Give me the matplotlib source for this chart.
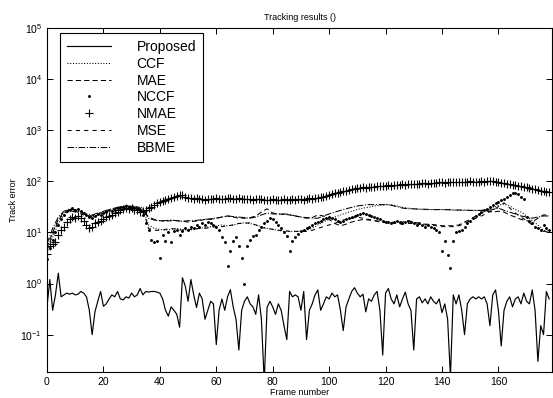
import numpy as np
import matplotlib
matplotlib.use("Agg")
import matplotlib.pyplot as plt

plt.rcParams['font.family'] = ['Liberation Sans', 'DejaVu Sans']
plt.rcParams['mathtext.default'] = 'regular'

# ---- data ----
frames = np.arange(0, 179)
frames_s = np.arange(0, 179, 2)

proposed = [
    0.35, 1.2, 0.3, 0.6, 1.6, 0.55, 0.6, 0.65, 0.62, 0.65,
    0.6, 0.62, 0.7, 0.65, 0.55, 0.3, 0.1, 0.28, 0.45, 0.7,
    0.36, 0.4, 0.5, 0.6, 0.55, 0.7, 0.5, 0.48, 0.55, 0.52,
    0.65, 0.55, 0.6, 0.8, 0.6, 0.7, 0.68, 0.7, 0.7, 0.68,
    0.65, 0.5, 0.3, 0.23, 0.35, 0.3, 0.25, 0.14, 1.3, 0.9,
    0.45, 1.2, 0.6, 0.34, 0.65, 0.5, 0.2, 0.3, 0.45, 0.4,
    0.064, 0.3, 0.5, 0.3, 0.55, 0.76, 0.35, 0.2, 0.05, 0.3,
    0.45, 0.55, 0.4, 0.35, 0.25, 0.6, 0.2, 0.012, 0.34, 0.45,
    0.35, 0.25, 0.4, 0.3, 0.15, 0.08, 0.7, 0.55, 0.6, 0.55,
    0.3, 0.7, 0.08, 0.3, 0.4, 0.6, 0.75, 0.3, 0.4, 0.55,
    0.5, 0.65, 0.55, 0.6, 0.3, 0.12, 0.35, 0.5, 0.7, 0.83,
    0.65, 0.55, 0.62, 0.28, 0.5, 0.45, 0.6, 0.7, 0.3, 0.04,
    0.65, 0.8, 0.5, 0.4, 0.6, 0.35, 0.5, 0.68, 0.4, 0.3,
    0.05, 0.5, 0.55, 0.42, 0.5, 0.4, 0.55, 0.45, 0.4, 0.5,
    0.27, 0.4, 0.2, 0.015, 0.6, 0.4, 0.6, 0.3, 0.1, 0.4,
    0.5, 0.55, 0.5, 0.55, 0.5, 0.55, 0.4, 0.15, 0.6, 0.75,
    0.3, 0.06, 0.3, 0.45, 0.55, 0.35, 0.5, 0.55, 0.4, 0.65,
    0.45, 0.4, 0.75, 0.3, 0.03, 0.15, 0.1, 0.7, 0.5,
]

nmae = [
    3.8, 5.5, 6, 6.5, 9, 11, 13, 16, 18, 20,
    19, 21, 19, 17, 14, 12, 13, 15, 16, 17,
    18, 20, 21, 22, 24, 25, 27, 29, 30, 29,
    30, 28, 27, 25, 26, 28, 30, 32, 35, 37,
    40, 42, 44, 45, 48, 50, 52, 55, 53, 50,
    48, 47, 46, 47, 45, 46, 44, 45, 46, 45,
    47, 46, 45, 46, 48, 47, 46, 45, 47, 46,
    45, 46, 45, 44, 46, 45, 46, 44, 43, 44,
    45, 44, 43, 44, 45, 44, 43, 45, 44, 45,
    46, 44, 45, 47, 46, 48, 47, 49, 50, 52,
    54, 56, 58, 60, 62, 64, 66, 68, 70, 72,
    73, 75, 76, 74, 77, 78, 79, 80, 81, 80,
    82, 83, 82, 84, 86, 85, 87, 86, 88, 87,
    89, 90, 88, 91, 92, 90, 93, 94, 92, 95,
    96, 94, 97, 98, 96, 99, 98, 96, 97, 99,
    100, 98, 97, 99, 100, 98, 101, 103, 100, 97,
    95, 93, 91, 89, 87, 86, 84, 82, 80, 78,
    76, 74, 72, 70, 68, 66, 65, 63, 62,
]

ccf = [
    4, 8, 15, 22, 28, 27, 25, 22, 20, 22, 24, 25, 28, 30, 32, 33, 32, 30,
    14, 12, 11.5, 11, 11.5, 12, 11.5, 11, 11.5, 12, 12.5, 13, 13.5, 14,
    13.5, 14, 15, 15.5, 15, 14, 13, 12, 11.5, 11, 10.5, 10.5, 10.5, 10.5,
    11, 12, 14, 16, 18, 20, 22, 24, 26, 28, 30, 31, 33, 34, 35, 35,
    33, 31, 30, 29, 28.5, 28, 28, 28, 28, 27.5, 27.5, 27, 27, 27, 27, 27,
    28, 30, 34, 36, 33, 28, 25, 21, 17, 14, 11, 10.5,
]

mae = [
    5, 10, 18, 25, 28, 26, 24, 22, 21, 23, 25, 27, 29, 31, 32, 31, 29, 27,
    20, 18, 17, 16.5, 17, 17, 16.5, 16, 16.5, 17, 18, 18, 19, 20,
    21, 20, 19, 19, 19.5, 21, 25, 29, 24, 23, 22.5, 22, 21, 20,
    19, 19.5, 22, 21, 18, 15, 13.5, 14.5, 16, 17, 18, 17.5, 17, 16.5, 16, 15.5,
    15, 16, 17, 16, 15, 14.5, 14.5, 14, 13.5, 13.5, 13.5, 14, 16, 18, 21, 24,
    26, 25, 26, 25, 22, 20, 18, 17, 16, 19, 22, 22,
]

mse = [
    4.5, 9, 17, 24, 27, 25, 23, 21, 20, 22, 24, 26, 28, 30, 31, 32, 30, 28,
    12, 11, 11, 11.5, 12, 11.5, 11, 11.5, 11.5, 12, 12, 12.5, 13, 13,
    13.5, 14, 15, 15, 15.5, 14, 12.5, 12, 11.5, 11, 11, 10.5, 10.5, 10.5,
    10.5, 11, 12, 13, 14, 15, 17, 18, 19, 20, 19, 18, 17, 16, 15.5, 16,
    15, 14.5, 15, 15, 14.5, 14, 14, 13.5, 13, 13, 13, 13.5, 15, 17, 19, 21,
    24, 27, 32, 38, 30, 24, 20, 17, 14, 12, 10.5, 10.5,
]

bbme = [
    6, 12, 20, 26, 29, 28, 25, 23, 22, 24, 26, 28, 30, 32, 33, 32, 31, 29,
    19, 17.5, 17, 17, 17.5, 17, 16.5, 17, 17, 17.5, 18, 18.5, 19, 20,
    21, 20.5, 20, 19.5, 19, 20, 22, 24, 23, 23, 23, 22.5, 21, 20,
    19.5, 19, 19, 21, 23, 25, 27, 29, 31, 33, 34, 35, 35, 35, 35, 34,
    32, 30, 29, 29, 28.5, 28.5, 28, 28, 28, 28, 27.5, 27.5, 27.5, 27, 27, 27,
    27, 28, 30, 27, 25, 23, 21, 20, 19, 20, 21, 21,
]

nccf = [
    3, 5, 7, 10, 14, 18, 22, 26, 28, 30,
    27, 29, 26, 24, 22, 20, 19, 21, 23, 22,
    24, 25, 27, 26, 28, 30, 31, 32, 33, 31,
    32, 30, 29, 27, 22, 15, 11, 7, 6.5, 6.8,
    3.2, 9, 6.7, 10, 6.5, 10.5, 11, 9, 10.5, 12,
    11, 13, 12, 14, 13, 15, 14, 16, 15, 14,
    13, 11, 8, 6.5, 2.2, 4.3, 6.9, 8, 5.4, 3.1,
    1.0, 5.5, 7, 8.5, 9.1, 11, 13, 15, 17, 19,
    18, 16, 14, 12, 10, 8.5, 4.3, 6.7, 8.3, 9.5,
    10.5, 11, 12, 13, 14, 15, 16, 17, 18, 19,
    20, 19, 18, 17, 16, 17, 18, 19, 20, 21,
    22, 23, 24, 23, 22, 21, 20, 19, 18, 17,
    16, 16, 15, 16, 17, 16, 15, 16, 17, 16,
    15, 14, 15, 14, 13, 14, 13, 12, 11, 10,
    4.3, 6.7, 3.7, 2.05, 6.7, 10, 10.5, 11, 13, 15,
    17, 19, 21, 23, 25, 27, 29, 31, 34, 37,
    40, 43, 46, 50, 55, 58, 60, 56, 50, 45,
    20, 17, 15, 13, 12, 11, 14, 12, 11,
]

legend_labels = ['Proposed', 'CCF', 'MAE', 'NCCF', 'NMAE', 'MSE', 'BBME']

fig = plt.figure(figsize=(5.53, 3.98), dpi=100)
ax = fig.add_axes([47 / 553, 1 - 372 / 398, 505 / 553, 344 / 398])

lw = 0.75
ax.plot(frames, proposed, '-', color='black', lw=0.85, label=legend_labels[0])
ax.plot(frames_s, ccf, ':', color='black', lw=lw, label=legend_labels[1])
ax.plot(frames_s, mae, '--', color='black', lw=lw, dashes=(5, 3), label=legend_labels[2])
ax.plot(frames, nccf, '.', color='black', ms=2.2, label=legend_labels[3])
ax.plot(frames, nmae, '+', color='black', ms=6, mew=0.8, label=legend_labels[4])
ax.plot(frames_s, mse, '--', color='black', lw=lw, dashes=(4, 4), label=legend_labels[5])
ax.plot(frames_s, bbme, '-.', color='black', lw=lw, label=legend_labels[6])

ax.set_yscale('log')
ax.set_ylim(0.0186, 1e5)
ax.set_xlim(0, 179)
ax.set_xticks([0, 20, 40, 60, 80, 100, 120, 140, 160])
ax.set_yticks([1e-1, 1e0, 1e1, 1e2, 1e3, 1e4, 1e5])
ax.minorticks_off()
ax.tick_params(direction='in', top=True, right=True, labelsize=7.5, length=4, width=0.7)
for s in ax.spines.values():
    s.set_linewidth(0.8)

ax.set_title('Tracking results ()', fontsize=6.5, pad=6)
ax.set_xlabel('Frame number', fontsize=6.5, labelpad=1)
ax.set_ylabel('Track error', fontsize=6.5, labelpad=2)

leg = ax.legend(loc='upper left', bbox_to_anchor=(13 / 505, 1 - 5 / 344), fontsize=10,
                frameon=True, fancybox=False, edgecolor='black', framealpha=1,
                handlelength=3.2, handletextpad=1.8, labelspacing=0.2, borderpad=0.5,
                borderaxespad=0, numpoints=1)
leg.get_frame().set_linewidth(0.8)

plt.savefig('out.png', dpi=100)
